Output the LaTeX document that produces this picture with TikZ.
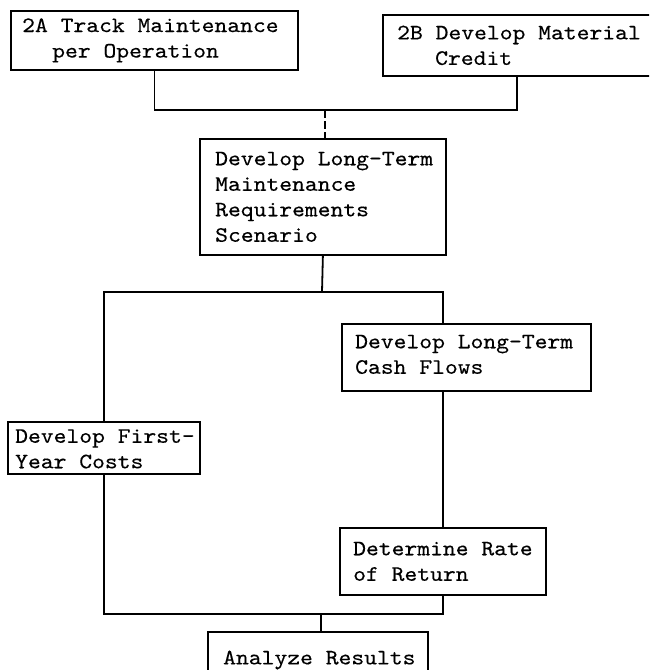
\documentclass[tikz,border=0pt]{standalone}
\usepackage{fontspec}
\newfontfamily\tw{lmmono10-regular.otf}[FakeStretch=1.11,FakeBold=0.3]
\begin{document}
\begin{tikzpicture}[x=1pt,y=-1pt,
  box/.style={draw, line width=1.8pt, rectangle, inner sep=0pt, anchor=north west},
  txt/.style={anchor=west, align=left, inner sep=0pt, font=\tw\fontsize{22}{25.5}\selectfont},
  wire/.style={line width=1.8pt}]
\clip (0,0) rectangle (649,670);
% boxes
\node[box, minimum width=287pt, minimum height=59pt] (A) at (10,10) {};
\node[txt] (At) at ([xshift=12pt]A.west) {2A Track Maintenance\\\hspace*{30pt}per Operation};
\node[box, minimum width=268pt, minimum height=61pt] (B) at (382,14) {};
\node[txt] (Bt) at ([xshift=15pt]B.west) {2B Develop Material\\\hspace*{38pt}Credit};
\node[box, minimum width=246pt, minimum height=116pt] (C) at (199,138) {};
\node[txt] (Ct) at ([xshift=16pt]C.west) {Develop Long-Term\\Maintenance\\Requirements\\Scenario};
\node[box, minimum width=249pt, minimum height=67pt] (D) at (341,323) {};
\node[txt] (Dt) at ([xshift=14pt,yshift=3pt]D.west) {Develop Long-Term\\Cash Flows};
\node[box, minimum width=192pt, minimum height=52pt] (E) at (7,421) {};
\node[txt] (Et) at ([xshift=8pt,yshift=-1pt]E.west) {Develop First-\\Year Costs};
\node[box, minimum width=206pt, minimum height=67pt] (F) at (339,527) {};
\node[txt] (Ft) at ([xshift=14pt]F.west) {Determine Rate\\of Return};
\node[box, minimum width=220pt, minimum height=60pt] (G) at (207,631) {};
\node[txt] (Gt) at (223,660) {Analyze Results};
% junctions
\coordinate (j1) at (325,110);
\coordinate (j2) at (322,292);
\coordinate (j3) at (443,292);
\coordinate (j4) at (321,614);
% connectors
\draw[wire] (A.south) |- (j1) -| (B.south);
\draw[wire, dash pattern=on 8pt off 3pt] (j1) -- (j1 |- C.north);
\draw[wire] (C.south) -- (j2);
\draw[wire] (E.north) |- (j2) -- (j3) -- (j3 |- D.north);
\draw[wire] (j3 |- D.south) -- (F.north);
\draw[wire] (F.south) |- (j4) -| (E.south);
\draw[wire] (j4) -- (j4 |- G.north);
\end{tikzpicture}
\end{document}
